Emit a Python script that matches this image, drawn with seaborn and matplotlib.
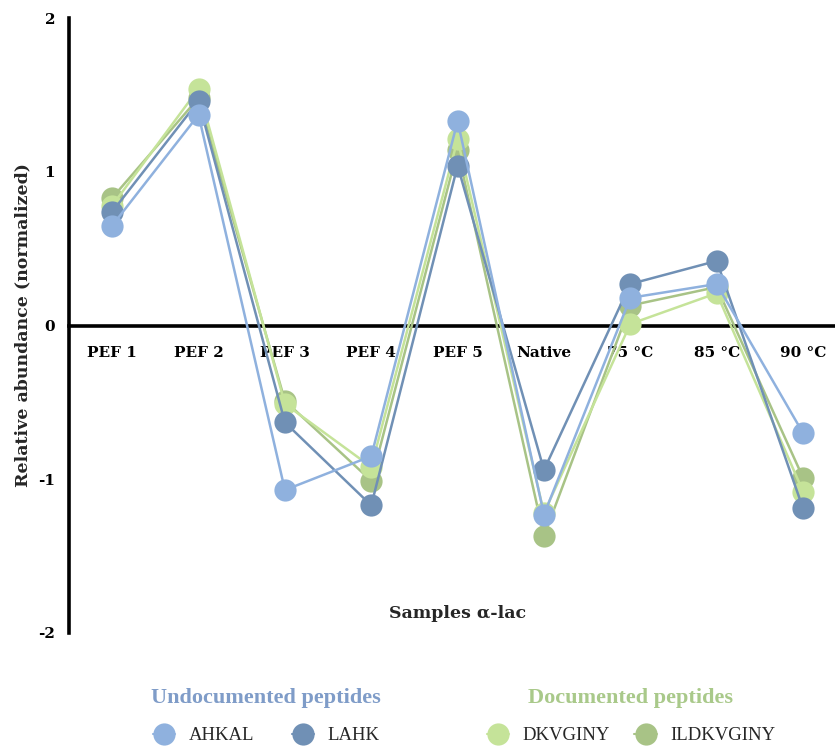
import numpy as np
import pandas as pd
import matplotlib
matplotlib.use("Agg")
import matplotlib.pyplot as plt
from matplotlib.lines import Line2D
import seaborn as sns

categories = ["PEF 1", "PEF 2", "PEF 3", "PEF 4", "PEF 5", "Native", "75 °C", "85 °C", "90 °C"]
ahkal = [0.65, 1.37, -1.07, -0.85, 1.33, -1.23, 0.18, 0.27, -0.70]
lahk = [0.74, 1.46, -0.63, -1.17, 1.04, -0.94, 0.27, 0.42, -1.19]
dkvginy = [0.78, 1.54, -0.51, -0.92, 1.21, -1.22, 0.01, 0.21, -1.08]
ildkvginy = [0.83, 1.48, -0.49, -1.01, 1.14, -1.37, 0.13, 0.25, -0.99]

series_names = ["ILDKVGINY", "DKVGINY", "LAHK", "AHKAL"]
series_values = [ildkvginy, dkvginy, lahk, ahkal]
colors = {"AHKAL": "#8FB1DE", "LAHK": "#7090B5", "DKVGINY": "#C5E399", "ILDKVGINY": "#A8C386"}

rows = []
for name, vals in zip(series_names, series_values):
    for i, (c, v) in enumerate(zip(categories, vals)):
        rows.append({"sample": c, "idx": i, "value": v, "peptide": name})
df = pd.DataFrame(rows)

sns.set_theme(style="white")
plt.rcParams["font.family"] = ["Liberation Serif", "DejaVu Serif"]
AX_FONT = ["DejaVu Serif"]

fig = plt.figure(figsize=(8.35, 7.47), dpi=100)
ax = fig.add_axes([69/835, 1-633/747, 1-69/835, (633-18)/747])

for name in series_names:
    sub = df[df["peptide"] == name]
    sns.lineplot(data=sub, x="idx", y="value", ax=ax, color=colors[name], lw=1.8,
                 marker="o", markersize=16, markeredgewidth=0, sort=False,
                 legend=False, zorder=3)

ax.set_xlim(-0.5, 8.37)
ax.set_ylim(-2, 2)
ax.set_xticks(range(len(categories)))
ax.set_xticklabels(categories)
ax.set_yticks([-2, -1, 0, 1, 2])
ax.set_yticklabels(["-2", "-1", "0", "1", "2"])

for s in ["top", "right"]:
    ax.spines[s].set_visible(False)
ax.spines["bottom"].set_position(("data", 0))
ax.spines["left"].set_linewidth(2.6)
ax.spines["bottom"].set_linewidth(2.6)
ax.spines["left"].set_color("black")
ax.spines["bottom"].set_color("black")
ax.tick_params(axis="x", direction="out", length=9, width=2.6, pad=6, colors="black")
ax.tick_params(axis="y", direction="out", length=7, width=2.6, pad=3, colors="black")
for lab in ax.get_xticklabels() + ax.get_yticklabels():
    lab.set_fontfamily(AX_FONT)
    lab.set_fontweight("bold")
    lab.set_fontsize(11)
ax.set_xlabel("")
ax.set_ylabel("Relative abundance (normalized)", fontweight="bold", fontsize=12.5,
              family=AX_FONT, labelpad=5)

fig.text(458/835, 1-614/747, "Samples α-lac", ha="center", va="center",
         fontweight="bold", fontsize=12.5, family=AX_FONT)

def handle(name):
    return Line2D([], [], color=colors[name], lw=1.5, marker="o", markersize=16,
                  markeredgewidth=0)

common = dict(loc="center", ncol=2, frameon=False, fontsize=13.5,
              title_fontproperties={"weight": "bold", "size": 16},
              handlelength=1.2, handletextpad=0.7, labelspacing=0.3)
leg1 = fig.legend([handle("AHKAL"), handle("LAHK")], ["AHKAL", "LAHK"],
                  bbox_to_anchor=(266/835, 1-716/747), title="Undocumented peptides",
                  columnspacing=2.0, **common)
leg1.get_title().set_color("#7F9CC8")
leg2 = fig.legend([handle("DKVGINY"), handle("ILDKVGINY")], ["DKVGINY", "ILDKVGINY"],
                  bbox_to_anchor=(631/835, 1-716/747), title="Documented peptides",
                  columnspacing=1.3, **common)
leg2.get_title().set_color("#A9C98A")
for leg in (leg1, leg2):
    leg._legend_box.sep = 14

fig.savefig("out.png", dpi=100)
